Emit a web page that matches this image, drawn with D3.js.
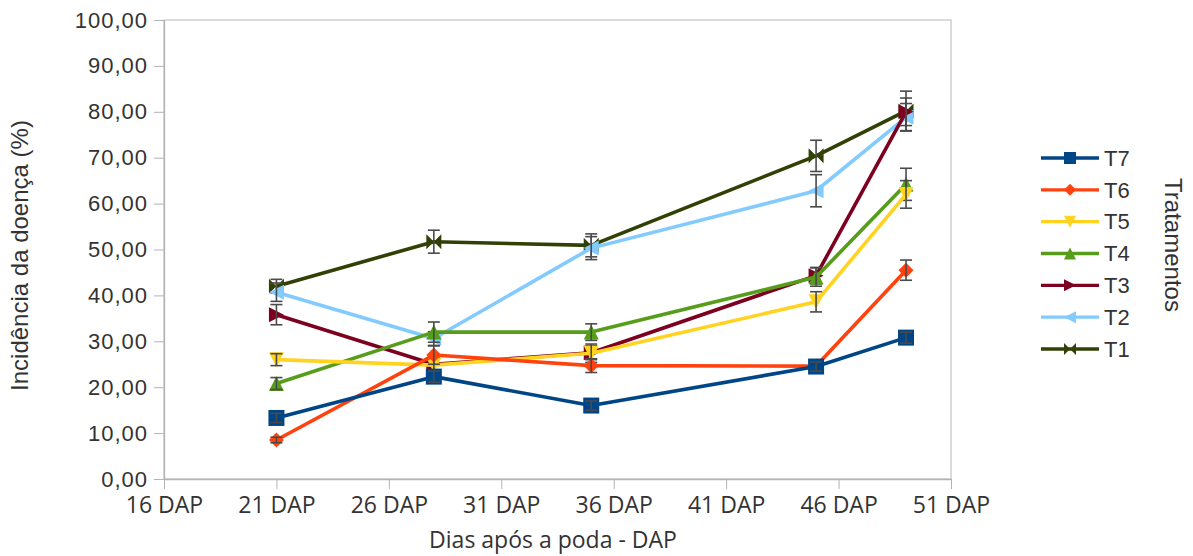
<!DOCTYPE html>
<html>
<head>
<meta charset="utf-8">
<script src="https://cdn.jsdelivr.net/npm/d3@7"></script>
<style>
  html, body { margin: 0; padding: 0; background: #fff; }
  svg { display: block; }
  .axis path, .axis line { stroke: #b3b3b3; }
  .axis text { fill: #333; }
</style>
</head>
<body>
<div id="chart"></div>
<script>
// Incidência da doença por tratamento ao longo dos dias após a poda

const DAYS = [21, 28, 35, 45, 49];
const SERIES_NAMES = ["T1", "T2", "T3", "T4", "T5", "T6", "T7"];

const T1 = [42.0, 51.7, 50.9, 70.4, 80.2];
const T2 = [40.7, 30.6, 50.3, 62.8, 78.8];
const T3 = [35.8, 25.0, 27.5, 44.3, 80.0];
const T4 = [20.8, 32.0, 32.0, 44.0, 64.2];
const T5 = [26.0, 24.8, 27.4, 38.6, 62.0];
const T6 = [8.5, 27.0, 24.7, 24.6, 45.5];
const T7 = [13.3, 22.3, 16.0, 24.5, 30.8];

// desvio (barras de erro)
const E1 = [1.5, 2.5, 2.5, 3.4, 4.3];
const E2 = [2.0, 1.5, 2.5, 3.5, 3.0];
const E3 = [2.2, 1.5, 1.5, 1.8, 3.0];
const E4 = [1.3, 2.2, 1.8, 2.0, 3.5];
const E5 = [1.3, 2.0, 2.0, 2.2, 3.0];
const E6 = [0.6, 2.0, 1.5, 0.8, 2.2];
const E7 = [1.0, 1.2, 1.0, 1.0, 1.2];

const X_TICKS = [16, 21, 26, 31, 36, 41, 46, 51];
const Y_TICKS = [0, 10, 20, 30, 40, 50, 60, 70, 80, 90, 100];

const COLORS = {
  T1: "#314004", T2: "#83caff", T3: "#7e0021", T4: "#579d1c",
  T5: "#ffd320", T6: "#ff420e", T7: "#004586",
};
const SYMBOLS = {
  T1: "bowtie", T2: "left", T3: "right", T4: "up",
  T5: "down", T6: "diamond", T7: "square",
};

const values = { T1, T2, T3, T4, T5, T6, T7 };
const errors = { T1: E1, T2: E2, T3: E3, T4: E4, T5: E5, T6: E6, T7: E7 };

const series = SERIES_NAMES.map(name => ({
  name,
  color: COLORS[name],
  symbol: SYMBOLS[name],
  points: DAYS.map((d, i) => ({ day: d, value: values[name][i], err: errors[name][i] })),
}));

const width = 1193, height = 556;
const plot = { left: 164, right: 951, top: 20, bottom: 479 };

const svg = d3.select("#chart").append("svg")
  .attr("width", width).attr("height", height);

const x = d3.scaleLinear().domain([16, 51]).range([plot.left, plot.right]);
const y = d3.scaleLinear().domain([0, 100]).range([plot.bottom, plot.top]);

const ptLocale = d3.formatLocale({ decimal: ",", thousands: ".", grouping: [3], currency: ["", ""] });
const yFmt = ptLocale.format(".2f");

// moldura da área do gráfico
svg.append("rect")
  .attr("x", plot.left).attr("y", plot.top)
  .attr("width", plot.right - plot.left).attr("height", plot.bottom - plot.top)
  .attr("fill", "none").attr("stroke", "#c8c8c8").attr("stroke-width", 1.3);

// Eixos
svg.append("g")
  .attr("class", "axis y-axis")
  .attr("transform", `translate(${plot.left},0)`)
  .call(d3.axisLeft(y).tickValues(Y_TICKS).tickFormat(yFmt).tickSize(10).tickPadding(6).tickSizeOuter(0))
  .call(g => g.select(".domain").attr("stroke-width", 1.3))
  .selectAll("text")
    .attr("font-family", "Liberation Sans, Arial, sans-serif")
    .attr("font-size", 22)
    .attr("letter-spacing", 1)
    .attr("fill", "#3a3a3a");

svg.append("g")
  .attr("class", "axis x-axis")
  .attr("transform", `translate(0,${plot.bottom})`)
  .call(d3.axisBottom(x).tickValues(X_TICKS).tickFormat(d => d + " DAP").tickSize(10).tickPadding(7).tickSizeOuter(0))
  .call(g => g.select(".domain").attr("stroke-width", 1.3))
  .selectAll("text")
    .attr("font-family", "Open Sans, sans-serif")
    .attr("font-size", 23)
    .attr("fill", "#333")
    .attr("dy", "0.72em");

// Títulos dos eixos
svg.append("text")
  .attr("transform", `translate(28,${(plot.top + plot.bottom) / 2 + 6}) rotate(-90)`)
  .attr("text-anchor", "middle")
  .attr("font-family", "Liberation Sans, Arial, sans-serif")
  .attr("font-size", 24)
  .attr("fill", "#333")
  .text("Incidência da doença (%)");

svg.append("text")
  .attr("x", 553).attr("y", 548)
  .attr("text-anchor", "middle")
  .attr("font-family", "Open Sans, sans-serif")
  .attr("font-size", 23)
  .attr("fill", "#333")
  .text("Dias após a poda - DAP");

// Marcadores
function symbolPath(kind, s) {
  const h = s / 2;
  switch (kind) {
    case "square":  return `M${-h},${-h}H${h}V${h}H${-h}Z`;
    case "diamond": return `M0,${-h}L${h},0L0,${h}L${-h},0Z`;
    case "up":      return `M0,${-h}L${h},${h}L${-h},${h}Z`;
    case "down":    return `M${-h},${-h}L${h},${-h}L0,${h}Z`;
    case "right":   return `M${-h},${-h}L${h},0L${-h},${h}Z`;
    case "left":    return `M${h},${-h}L${-h},0L${h},${h}Z`;
    case "bowtie":  return `M${-h},${-h}L0,0L${-h},${h}Z M${h},${-h}L0,0L${h},${h}Z`;
  }
}

const line = d3.line()
  .x(d => x(d.day))
  .y(d => y(d.value));

const seriesGroup = svg.append("g").attr("class", "series");

series.forEach(s => {
  const g = seriesGroup.append("g").attr("data-series", s.name);

  g.append("path")
    .attr("fill", "none")
    .attr("stroke", s.color)
    .attr("stroke-width", 3.6)
    .attr("stroke-linejoin", "round")
    .attr("d", line(s.points));

  g.selectAll("path.marker")
    .data(s.points)
    .join("path")
      .attr("class", "marker")
      .attr("transform", d => `translate(${x(d.day)},${y(d.value)})`)
      .attr("d", symbolPath(s.symbol, s.symbol === "square" ? 16 : 15))
      .attr("fill", s.color);

  // barras de erro
  const eb = g.selectAll("g.err")
    .data(s.points)
    .join("g")
      .attr("class", "err")
      .attr("stroke", "#4a4a4a")
      .attr("stroke-width", 1.6);
  eb.append("line")
    .attr("x1", d => x(d.day)).attr("x2", d => x(d.day))
    .attr("y1", d => y(d.value + d.err)).attr("y2", d => y(d.value - d.err));
  eb.append("line")
    .attr("x1", d => x(d.day) - 6).attr("x2", d => x(d.day) + 6)
    .attr("y1", d => y(d.value + d.err)).attr("y2", d => y(d.value + d.err));
  eb.append("line")
    .attr("x1", d => x(d.day) - 6).attr("x2", d => x(d.day) + 6)
    .attr("y1", d => y(d.value - d.err)).attr("y2", d => y(d.value - d.err));
});

// Legenda (T7 no topo)
const legendItems = series.slice().reverse();
const legend = svg.append("g").attr("class", "legend");
const rowY = d3.scalePoint().domain(legendItems.map(d => d.name)).range([158, 349]);

const item = legend.selectAll("g")
  .data(legendItems)
  .join("g")
    .attr("transform", d => `translate(0,${rowY(d.name)})`);

item.append("line")
  .attr("x1", 1041).attr("x2", 1099)
  .attr("stroke", d => d.color)
  .attr("stroke-width", 3.4);
item.append("path")
  .attr("transform", "translate(1070,0)")
  .attr("d", d => symbolPath(d.symbol, 12))
  .attr("fill", d => d.color);
item.append("text")
  .attr("x", 1104).attr("dy", "0.35em")
  .attr("font-family", "Liberation Sans, Arial, sans-serif")
  .attr("font-size", 22)
  .attr("fill", "#333")
  .text(d => d.name);

svg.append("text")
  .attr("transform", "translate(1165,245) rotate(90)")
  .attr("text-anchor", "middle")
  .attr("font-family", "Liberation Sans, Arial, sans-serif")
  .attr("font-size", 24)
  .attr("fill", "#333")
  .text("Tratamentos");
</script>
</body>
</html>
